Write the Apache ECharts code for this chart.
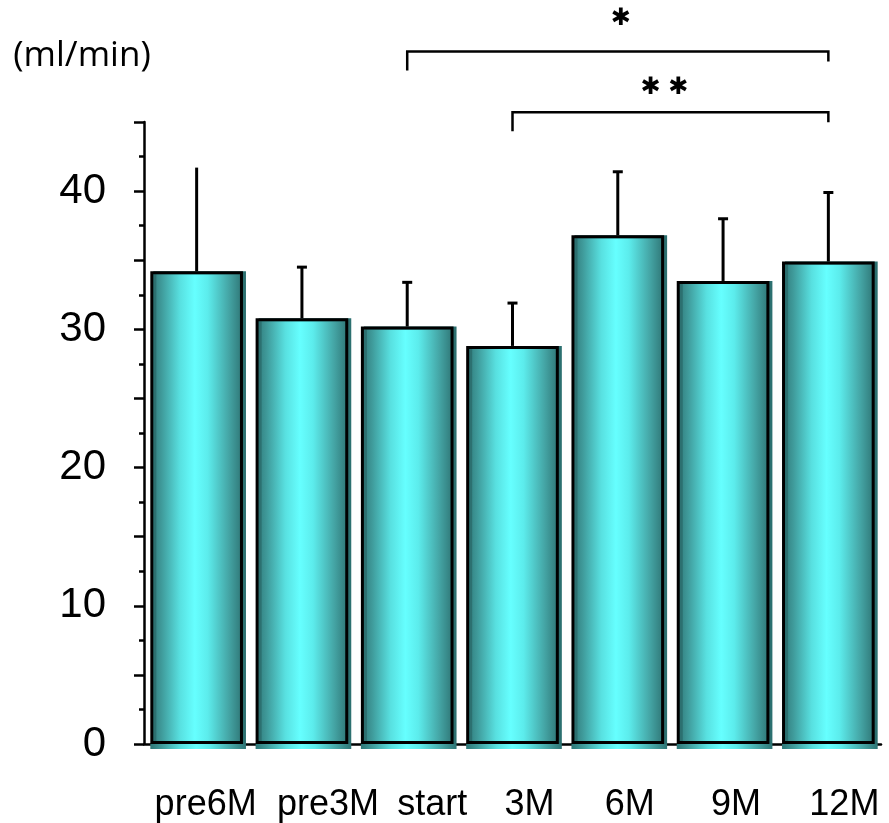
<!DOCTYPE html>
<html><head><meta charset="utf-8">
<script src="https://cdn.jsdelivr.net/npm/echarts@6/dist/echarts.min.js"></script>
<style>html,body{margin:0;padding:0;background:#fff}#c{width:889px;height:823px}</style>
</head><body><div id="c"></div>
<script>
// ---- data ----
const categories = ['pre6M', 'pre3M', 'start', '3M', '6M', '9M', '12M'];
const means = [34.2, 30.8, 30.2, 28.8, 36.8, 33.5, 34.9];
const sds = [7.5, 3.7, 3.2, 3.1, 4.6, 4.5, 5.0];
const yTickLabels = [0, 10, 20, 30, 40];
const unitLabel = '(ml/min)';
const compFrom = ['start', '3M'];
const compTo = ['12M', '12M'];
const compMarks = ['✱', '✱ ✱'];

// ---- styling ----
const labelShift = [9, 26, 25, 17, 12, 13, 16];
const bracketLevels = [50.1, 45.7];
const font = 'Liberation Sans, Arial, sans-serif';
function grad() {
  return new echarts.graphic.LinearGradient(0, 0, 1, 0, [
    {offset: 0, color: '#2e7676'},
    {offset: 0.12, color: '#3f9a9a'},
    {offset: 0.32, color: '#58e0e0'},
    {offset: 0.48, color: '#66ffff'},
    {offset: 0.62, color: '#5cecec'},
    {offset: 0.85, color: '#44a4a4'},
    {offset: 1, color: '#2e7474'}
  ]);
}
const rich = {};
labelShift.forEach((d, i) => {
  rich['l' + i] = {fontSize: 36, fontFamily: font, color: '#000', padding: [0, 0, 0, 2 * d]};
});

const chart = echarts.init(document.getElementById('c'));
chart.setOption({
  animation: false,
  backgroundColor: '#fff',
  grid: {left: 144, right: 8, top: 122, bottom: 78},
  xAxis: {
    type: 'category', data: categories,
    axisLine: {lineStyle: {color: '#000', width: 2.5}},
    axisTick: {alignWithLabel: true, length: 7, lineStyle: {color: '#000', width: 2}},
    axisLabel: {
      margin: 43, interval: 0,
      formatter: (v, i) => '{l' + i + '|' + v + '}',
      rich: rich
    }
  },
  yAxis: {
    type: 'value', min: 0, max: 45, interval: 5,
    axisLine: {show: true, lineStyle: {color: '#000', width: 2.5}},
    axisTick: {show: true, length: 10, lineStyle: {color: '#000', width: 2.5}},
    minorTick: {show: true, splitNumber: 2, length: 5, lineStyle: {color: '#000', width: 2.5}},
    splitLine: {show: false},
    axisLabel: {
      formatter: v => yTickLabels.includes(v) ? String(v) : '',
      fontSize: 42, fontFamily: font, color: '#000', margin: 38
    },
    name: unitLabel, nameLocation: 'end', nameGap: 48,
    nameTextStyle: {fontSize: 35, fontFamily: 'Open Sans, sans-serif', color: '#000', align: 'center', padding: [0, 124, 0, 0]}
  },
  series: [
    {
      type: 'custom', z: 1, clip: false,
      data: means.map((m, i) => [i, m]),
      encode: {x: 0, y: 1},
      renderItem: (params, api) => {
        const p = api.coord([api.value(0), 0]);
        const w = api.size([1, 0])[0] * 0.88;
        return {type: 'rect', shape: {x: p[0] - w / 2, y: p[1], width: w + 3, height: 5}, style: {fill: grad()}};
      }
    },
    {
      type: 'bar', data: means, barCategoryGap: '12%', z: 2,
      itemStyle: {color: grad(), borderColor: '#000', borderWidth: 3,
        shadowColor: '#2c7070', shadowOffsetX: 3, shadowOffsetY: 0, shadowBlur: 0}
    },
    {
      type: 'custom', z: 3, clip: false,
      data: means.map((m, i) => [i, m, sds[i]]),
      encode: {x: 0, y: 1},
      renderItem: (params, api) => {
        const i = api.value(0), m = api.value(1), s = api.value(2);
        const b = api.coord([i, m]), t = api.coord([i, m + s]);
        const ch = [{type: 'line', shape: {x1: b[0], y1: b[1], x2: t[0], y2: t[1]}, style: {stroke: '#000', lineWidth: 3}}];
        if (i > 0) ch.push({type: 'line', shape: {x1: t[0] - 5, y1: t[1], x2: t[0] + 5, y2: t[1]}, style: {stroke: '#000', lineWidth: 3}});
        return {type: 'group', children: ch};
      }
    },
    {
      type: 'custom', z: 3, clip: false,
      data: compFrom.map((f, k) => [categories.indexOf(f), categories.indexOf(compTo[k]), k]),
      encode: {x: 0},
      renderItem: (params, api) => {
        const k = api.value(2);
        const a = api.coord([api.value(0), bracketLevels[k]]);
        const b = api.coord([api.value(1), bracketLevels[k]]);
        return {type: 'group', children: [
          {type: 'polyline', shape: {points: [[a[0], a[1] + 19], [a[0], a[1]], [b[0], a[1]], [b[0], a[1] + 10]]},
            style: {stroke: '#000', lineWidth: 2.5, fill: null}},
          {type: 'text', style: {text: compMarks[k], x: (a[0] + b[0]) / 2 + (k === 0 ? 3 : -6), y: a[1] - (k === 0 ? 33 : 25),
            align: 'center', verticalAlign: 'middle', fontSize: 24, fontFamily: 'DejaVu Sans', fill: '#000'}}
        ]};
      }
    }
  ]
});
</script></body></html>
